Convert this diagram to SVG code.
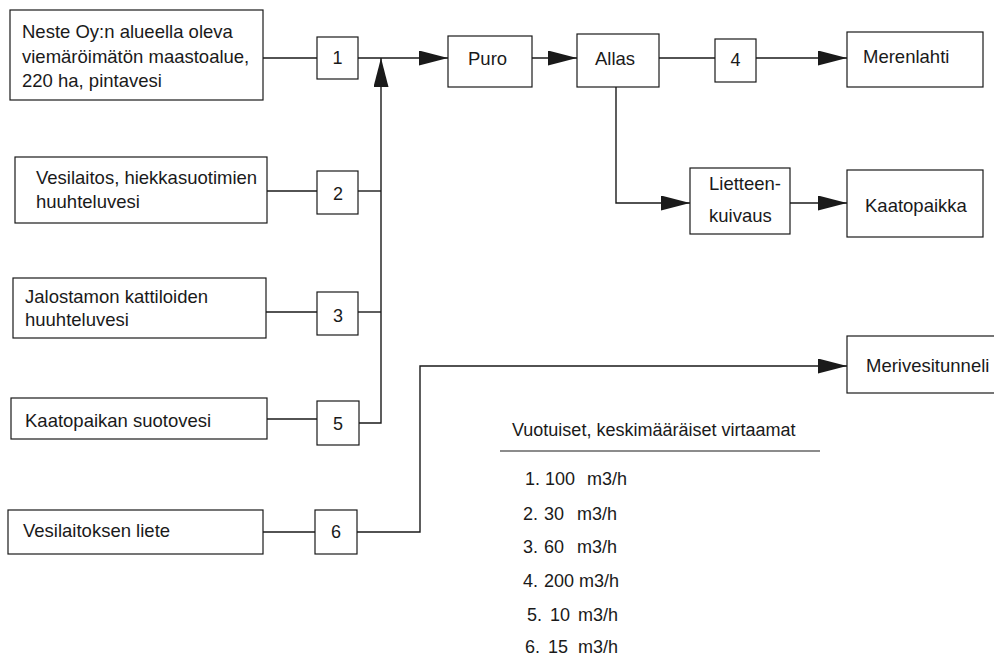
<svg xmlns="http://www.w3.org/2000/svg" width="994" height="657" viewBox="0 0 994 657">
<style>
  .bg { fill: #ffffff; }
  .box { fill: #ffffff; stroke: #1a1a1a; stroke-width: 1.2; }
  .t { font-family: "Liberation Sans", Arial, Helvetica, sans-serif; font-size: 18.5px; fill: #1a1a1a; }
  .n { font-family: "Liberation Sans", Arial, Helvetica, sans-serif; font-size: 18px; fill: #1a1a1a; text-anchor: middle; }
  .lg { font-family: "Liberation Sans", Arial, Helvetica, sans-serif; font-size: 18px; fill: #1a1a1a; }
  .c { fill: none; stroke: #1a1a1a; stroke-width: 1.4; }
</style>
<defs>
  <marker id="arr" markerUnits="userSpaceOnUse" markerWidth="30" markerHeight="16" refX="29" refY="7.5" orient="auto">
    <path d="M0,0 L29,7.5 L0,15 Z" fill="#1a1a1a"/>
  </marker>
</defs>
<rect class="bg" x="0" y="0" width="994" height="657"/>

<g id="connectors">
  <line class="c" x1="263" y1="58" x2="317" y2="58"/>
  <line class="c" x1="358" y1="58" x2="448" y2="58" marker-end="url(#arr)"/>
  <polyline class="c" points="359,423 381,423 381,58" marker-end="url(#arr)"/>
  <line class="c" x1="358" y1="191" x2="381" y2="191"/>
  <line class="c" x1="358" y1="312" x2="381" y2="312"/>
  <line class="c" x1="267" y1="191" x2="317" y2="191"/>
  <line class="c" x1="266" y1="312" x2="317" y2="312"/>
  <line class="c" x1="267" y1="419" x2="317" y2="419"/>
  <line class="c" x1="263" y1="532" x2="315" y2="532"/>
  <polyline class="c" points="357,532 420,532 420,366 847,366" marker-end="url(#arr)"/>
  <line class="c" x1="532" y1="58" x2="577" y2="58" marker-end="url(#arr)"/>
  <line class="c" x1="659" y1="58" x2="715" y2="58"/>
  <line class="c" x1="756" y1="58" x2="847" y2="58" marker-end="url(#arr)"/>
  <polyline class="c" points="616,87 616,203 690,203" marker-end="url(#arr)"/>
  <line class="c" x1="790" y1="203" x2="847" y2="203" marker-end="url(#arr)"/>
</g>

<g id="neste">
  <rect class="box" x="10" y="10" width="253" height="90"/>
  <text class="t" x="22" y="38">Neste Oy:n alueella oleva</text>
  <text class="t" x="22" y="62.5">viemäröimätön maastoalue,</text>
  <text class="t" x="22" y="87">220 ha, pintavesi</text>
</g>
<g id="box1">
  <rect class="box" x="317" y="37" width="41" height="42"/>
  <text class="n" x="337.5" y="64">1</text>
</g>
<g id="puro">
  <rect class="box" x="448" y="36" width="84" height="51"/>
  <text class="t" x="468" y="65">Puro</text>
</g>
<g id="allas">
  <rect class="box" x="577" y="34" width="82" height="53"/>
  <text class="t" x="595" y="65">Allas</text>
</g>
<g id="box4">
  <rect class="box" x="715" y="39" width="41" height="43"/>
  <text class="n" x="735.5" y="66">4</text>
</g>
<g id="merenlahti">
  <rect class="box" x="847" y="32" width="136" height="55"/>
  <text class="t" x="863" y="63">Merenlahti</text>
</g>
<g id="lietteenkuivaus">
  <rect class="box" x="690" y="168" width="100" height="66"/>
  <text class="t" x="709" y="190">Lietteen-</text>
  <text class="t" x="709" y="222">kuivaus</text>
</g>
<g id="kaatopaikka">
  <rect class="box" x="847" y="170" width="136" height="67"/>
  <text class="t" x="865" y="212">Kaatopaikka</text>
</g>
<g id="vesilaitos">
  <rect class="box" x="15" y="157" width="252" height="66"/>
  <text class="t" x="36" y="184">Vesilaitos, hiekkasuotimien</text>
  <text class="t" x="36" y="208">huuhteluvesi</text>
</g>
<g id="box2">
  <rect class="box" x="317" y="171" width="41" height="43"/>
  <text class="n" x="338" y="200">2</text>
</g>
<g id="jalostamo">
  <rect class="box" x="13" y="278" width="253" height="60"/>
  <text class="t" x="25" y="303">Jalostamon kattiloiden</text>
  <text class="t" x="25" y="326">huuhteluvesi</text>
</g>
<g id="box3">
  <rect class="box" x="317" y="292" width="41" height="43"/>
  <text class="n" x="338" y="322">3</text>
</g>
<g id="kaatopaikan_suotovesi">
  <rect class="box" x="11" y="398" width="256" height="41"/>
  <text class="t" x="25" y="427">Kaatopaikan suotovesi</text>
</g>
<g id="box5">
  <rect class="box" x="317" y="401" width="42" height="44"/>
  <text class="n" x="338" y="430">5</text>
</g>
<g id="vesilaitoksen_liete">
  <rect class="box" x="8" y="510" width="255" height="44"/>
  <text class="t" x="23" y="537">Vesilaitoksen liete</text>
</g>
<g id="box6">
  <rect class="box" x="315" y="510" width="42" height="44"/>
  <text class="n" x="336" y="538">6</text>
</g>
<g id="merivesitunneli">
  <rect class="box" x="847" y="336" width="160" height="57"/>
  <text class="t" x="866" y="372">Merivesitunneli</text>
</g>

<g id="legend">
  <text class="lg" x="512" y="436">Vuotuiset, keskimääräiset virtaamat</text>
  <line x1="500" y1="451" x2="820" y2="451" stroke="#1a1a1a" stroke-width="1.2"/>
  <text class="lg" y="485"><tspan x="525">1.</tspan><tspan x="545">100</tspan><tspan x="587">m3/h</tspan></text>
  <text class="lg" y="520"><tspan x="523">2.</tspan><tspan x="544">30</tspan><tspan x="577">m3/h</tspan></text>
  <text class="lg" y="553"><tspan x="523">3.</tspan><tspan x="544">60</tspan><tspan x="577">m3/h</tspan></text>
  <text class="lg" y="587"><tspan x="523">4.</tspan><tspan x="544">200 m3/h</tspan></text>
  <text class="lg" y="621"><tspan x="527">5.</tspan><tspan x="550">10</tspan><tspan x="578">m3/h</tspan></text>
  <text class="lg" y="653"><tspan x="525">6.</tspan><tspan x="548">15</tspan><tspan x="578">m3/h</tspan></text>
</g>
</svg>
